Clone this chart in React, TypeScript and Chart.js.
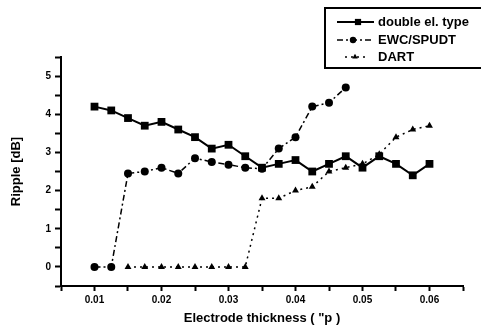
import React, { useEffect, useRef } from "react";
import { Chart, registerables } from "chart.js";

Chart.register(...registerables);

const xValues = [
  0.01, 0.0125, 0.015, 0.0175, 0.02, 0.0225, 0.025, 0.0275, 0.03, 0.0325, 0.035,
  0.0375, 0.04, 0.0425, 0.045, 0.0475, 0.05, 0.0525, 0.055, 0.0575, 0.06,
];
const doubleElType = [
  4.2, 4.1, 3.9, 3.7, 3.8, 3.6, 3.4, 3.1, 3.2, 2.9, 2.6, 2.7, 2.8, 2.5, 2.7, 2.9,
  2.6, 2.9, 2.7, 2.4, 2.7,
];
// EWC/SPUDT from 0.01 to 0.0475
const ewcSpudt = [
  0, 0, 2.45, 2.5, 2.6, 2.45, 2.85, 2.75, 2.68, 2.6, 2.57, 3.1, 3.4, 4.2, 4.3, 4.7,
];
// DART from 0.015 to 0.06
const dartStartIndex = 2;
const dart = [
  0, 0, 0, 0, 0, 0, 0, 0, 1.8, 1.8, 2.0, 2.1, 2.5, 2.6, 2.7, 2.95, 3.4, 3.6, 3.7,
];
const seriesLabels = ["double el. type", "EWC/SPUDT", "DART"];
const xTitle = 'Electrode thickness ( "p )';
const yTitle = "Ripple [dB]";

const FONT = "'Liberation Sans', Arial, sans-serif";

function drawMarker(ctx: CanvasRenderingContext2D, style: string, x: number, y: number, r: number) {
  ctx.beginPath();
  if (style === "rect") {
    const s = Math.SQRT1_2 * r;
    ctx.rect(x - s, y - s, 2 * s, 2 * s);
  } else if (style === "triangle") {
    ctx.moveTo(x, y - r);
    ctx.lineTo(x + r * 0.866, y + r * 0.5);
    ctx.lineTo(x - r * 0.866, y + r * 0.5);
    ctx.closePath();
  } else {
    ctx.arc(x, y, r, 0, Math.PI * 2);
  }
  ctx.fill();
}

const legendLayout = [
  { y: 22, x1: 337, x2: 374, mx: 358 },
  { y: 40, x1: 337, x2: 372, mx: 353 },
  { y: 57, x1: 345, x2: 368, mx: 355 },
];

const legendPlugin = {
  id: "boxLegend",
  afterDraw(chart: any) {
    const ctx = chart.ctx;
    ctx.save();
    ctx.strokeStyle = "#000";
    ctx.lineWidth = 2;
    ctx.setLineDash([]);
    ctx.strokeRect(325, 8, 170, 60);
    chart.data.datasets.forEach((ds: any, i: number) => {
      const L = legendLayout[i];
      ctx.save();
      ctx.strokeStyle = "#000";
      ctx.lineWidth = ds.borderWidth;
      ctx.setLineDash(ds.borderDash || []);
      ctx.beginPath();
      ctx.moveTo(L.x1, L.y);
      ctx.lineTo(L.x2, L.y);
      ctx.stroke();
      ctx.restore();
      ctx.fillStyle = "#000";
      drawMarker(ctx, ds.pointStyle, L.mx, L.y, ds.pointRadius * 0.8);
      ctx.font = `bold 13px ${FONT}`;
      ctx.textBaseline = "middle";
      ctx.textAlign = "left";
      ctx.fillText(ds.label, 378, L.y);
    });
    ctx.restore();
  },
};

export default function App() {
  const ref = useRef<HTMLCanvasElement | null>(null);
  useEffect(() => {
    if (!ref.current) return;
    const pts = (vals: number[], start: number) =>
      vals.map((v, i) => ({ x: xValues[start + i], y: v }));
    const chart = new Chart(ref.current, {
      type: "line",
      data: {
        datasets: [
          {
            label: seriesLabels[0],
            data: pts(doubleElType, 0),
            borderColor: "#000",
            backgroundColor: "#000",
            borderWidth: 2,
            pointStyle: "rect",
            pointRadius: 5.5,
            pointBorderWidth: 0,
            tension: 0,
          },
          {
            label: seriesLabels[1],
            data: pts(ewcSpudt, 0),
            borderColor: "#000",
            backgroundColor: "#000",
            borderWidth: 1.5,
            borderDash: [6, 3, 2, 3],
            pointStyle: "circle",
            pointRadius: 4,
            pointBorderWidth: 0,
            tension: 0,
          },
          {
            label: seriesLabels[2],
            data: pts(dart, dartStartIndex),
            borderColor: "#000",
            backgroundColor: "#000",
            borderWidth: 1.5,
            borderDash: [2, 4],
            pointStyle: "triangle",
            pointRadius: 4,
            pointBorderWidth: 0,
            tension: 0,
          },
        ],
      },
      options: {
        animation: false,
        responsive: false,
        devicePixelRatio: 1,
        layout: { padding: { top: 57, right: 18, left: 0, bottom: 0 } },
        plugins: { legend: { display: false }, tooltip: { enabled: false } },
        scales: {
          x: {
            type: "linear",
            min: 0.005,
            max: 0.065,
            afterFit: (s: any) => {
              s.height = 45;
            },
            border: { color: "#000", width: 2 },
            grid: {
              drawOnChartArea: false,
              drawTicks: true,
              tickLength: 5,
              tickColor: "#000",
              tickWidth: 2,
            },
            ticks: {
              stepSize: 0.005,
              autoSkip: false,
              maxRotation: 0,
              padding: 3,
              color: "#000",
              font: { family: FONT, size: 10, weight: "bold" },
              callback: (v: any) => {
                const n = Number(v) * 100;
                return Math.abs(n - Math.round(n)) < 1e-6 ? Number(v).toFixed(2) : "";
              },
            },
            title: {
              display: true,
              text: xTitle,
              color: "#000",
              font: { family: FONT, size: 13, weight: "bold" },
              padding: { top: 0, bottom: 5 },
            },
          },
          y: {
            type: "linear",
            min: -0.5,
            max: 5.5,
            afterFit: (s: any) => {
              s.width = 61;
            },
            border: { color: "#000", width: 2 },
            grid: {
              drawOnChartArea: false,
              drawTicks: true,
              tickLength: 6,
              tickColor: "#000",
              tickWidth: 2,
            },
            ticks: {
              stepSize: 0.5,
              autoSkip: false,
              padding: 4,
              color: "#000",
              font: { family: FONT, size: 10, weight: "bold" },
              callback: (v: any) => {
                const n = Number(v);
                if (n < 0 || n > 5) return "";
                return Math.abs(n - Math.round(n)) < 1e-6 ? String(Math.round(n)) : "";
              },
            },
            title: {
              display: true,
              text: yTitle,
              color: "#000",
              font: { family: FONT, size: 13, weight: "bold" },
              padding: { top: 9, bottom: 0 },
            },
          },
        },
      },
      plugins: [legendPlugin],
    } as any);
    return () => chart.destroy();
  }, []);
  return (
    <div style={{ position: "fixed", left: 0, top: 0, width: 481, height: 331, background: "#fff" }}>
      <canvas ref={ref} width={481} height={331} style={{ width: 481, height: 331, display: "block" }} />
    </div>
  );
}
